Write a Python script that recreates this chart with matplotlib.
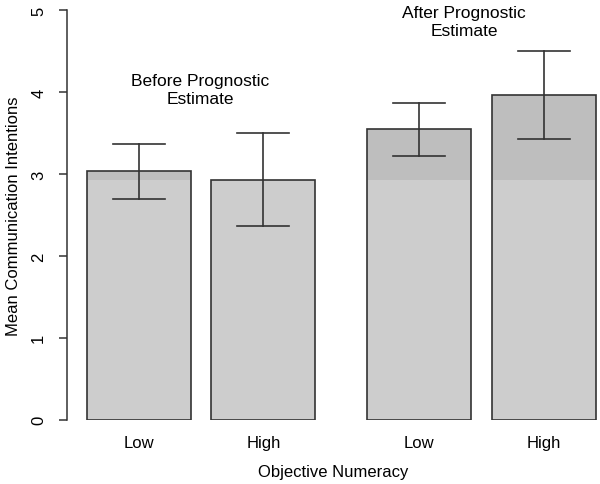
import numpy as np
import matplotlib.pyplot as plt

plt.rcParams['font.family'] = ['Liberation Sans', 'DejaVu Sans']

# data
groups = ['Before Prognostic\nEstimate', 'After Prognostic\nEstimate']
numeracy = ['Low', 'High', 'Low', 'High']
means = [3.03, 2.93, 3.55, 3.96]
err_low = [2.69, 2.36, 3.22, 3.42]
err_high = [3.37, 3.50, 3.86, 4.50]
positions = [0, 1.2, 2.7, 3.9]

fig = plt.figure(figsize=(6, 4.85), dpi=100)
ax = fig.add_axes([0.1117, 0.1326, 0.8883, 0.8447])

fill = '#cdcdcd'
dark = '#bebebe'
edge = '#333333'

ax.bar(positions, means, width=1.0, color=fill, edgecolor='none', zorder=1)
# darker part of the bars above the Before/High mean
base = means[1]
top = np.array(means) - base
top[top < 0] = 0
ax.bar(positions, top, bottom=base, width=1.0, color=dark, edgecolor='none', zorder=2)
ax.bar(positions, means, width=1.0, color='none', edgecolor=edge, linewidth=1.2, zorder=3)

# error bars
for x, lo, hi in zip(positions, err_low, err_high):
    ax.plot([x, x], [lo, hi], color=edge, lw=1.2, zorder=4)
    ax.plot([x - 0.25, x + 0.25], [lo, lo], color=edge, lw=1.2, zorder=4)
    ax.plot([x - 0.25, x + 0.25], [hi, hi], color=edge, lw=1.2, zorder=4)

ax.text(0.59, 4.03, groups[0], ha='center', va='center', fontsize=12.5, linespacing=1.22)
ax.text(3.13, 4.86, groups[1], ha='center', va='center', fontsize=12.5, linespacing=1.22)

ax.set_xlim(-0.69, 4.44)
ax.set_ylim(0, 5)
ax.set_xticks(positions)
ax.set_xticklabels(numeracy, fontsize=12)
ax.tick_params(axis='x', length=0, pad=11)
ax.set_yticks([0, 1, 2, 3, 4, 5])
ax.set_yticklabels(['0', '1', '2', '3', '4', '5'], rotation=90, va='center', fontsize=12)
ax.tick_params(axis='y', length=6, width=1.1, color=edge, pad=9)
for s in ['top', 'right', 'bottom']:
    ax.spines[s].set_visible(False)
ax.spines['left'].set_bounds(0, 5)
ax.spines['left'].set_color(edge)
ax.spines['left'].set_linewidth(1.1)
ax.set_xlabel('Objective Numeracy', fontsize=12, labelpad=10)
ax.set_ylabel('Mean Communication Intentions', fontsize=12, labelpad=7)

fig.savefig('out.png', dpi=100)
